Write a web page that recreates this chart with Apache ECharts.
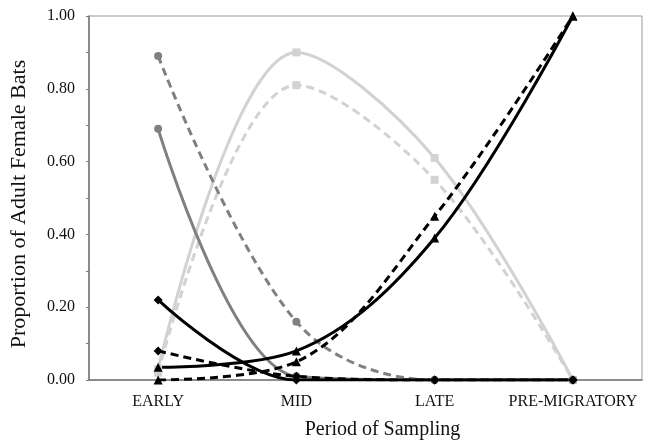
<!DOCTYPE html>
<html>
<head>
<meta charset="utf-8">
<script src="https://cdn.jsdelivr.net/npm/echarts@6/dist/echarts.min.js"></script>
<style>
  html, body { margin: 0; padding: 0; background: #fff; }
  #main { width: 648px; height: 445px; }
</style>
</head>
<body>
<div id="main"></div>
<script>
// periods of sampling
var periods = ['EARLY', 'MID', 'LATE', 'PRE-MIGRATORY'];
var yTicks = [0, 0.2, 0.4, 0.6, 0.8, 1.0];

// light grey, squares
var lightSolid = [0.03, 0.90, 0.61, 0.0];
var lightDashed = [0.02, 0.81, 0.55, 0.0];
// dark grey, circles
var darkSolid = [0.69, 0.01, 0.0, 0.0];
var darkDashed = [0.89, 0.16, 0.0, 0.0];
// black, diamonds
var diamondSolid = [0.22, 0.0, 0.0, 0.0];
var diamondDashed = [0.08, 0.01, 0.0, 0.0];
// black, triangles
var triangleSolid = [0.035, 0.08, 0.39, 1.0];
var triangleDashed = [0.0, 0.05, 0.45, 1.0];

var FONT = '"Liberation Serif", "DejaVu Serif", serif';

function mkLine(data, color, dashed, symbol, size) {
  return {
    type: 'line',
    data: data,
    smooth: 0.35,
    symbol: symbol,
    symbolSize: size,
    showSymbol: true,
    lineStyle: { color: color, width: 3, type: dashed ? [8, 5] : 'solid' },
    itemStyle: { color: color },
    emphasis: { disabled: true }
  };
}

var chart = echarts.init(document.getElementById('main'), null, { renderer: 'canvas' });

var option = {
  animation: false,
  backgroundColor: '#fff',
  grid: {
    left: 88, right: 6, top: 16, bottom: 63,
    show: true, borderColor: '#999', borderWidth: 1
  },
  xAxis: {
    type: 'category',
    data: periods,
    boundaryGap: true,
    name: 'Period of Sampling',
    nameLocation: 'middle',
    nameGap: 40,
    nameTextStyle: { fontFamily: FONT, fontSize: 20, color: '#111', padding: [0, 0, 0, 34] },
    axisLine: { lineStyle: { color: '#777', width: 1.5 } },
    axisTick: { show: false },
    axisLabel: { interval: 0, fontFamily: FONT, fontSize: 16, color: '#111', margin: 14 },
    splitLine: { show: false }
  },
  yAxis: {
    type: 'value',
    min: yTicks[0],
    max: yTicks[yTicks.length - 1],
    interval: 0.2,
    name: 'Proportion of Adult Female Bats',
    nameLocation: 'middle',
    nameGap: 59,
    nameTextStyle: { fontFamily: FONT, fontSize: 22, color: '#111', padding: [0, 12, 0, 0] },
    axisLine: { show: true, lineStyle: { color: '#777', width: 1.5 } },
    axisTick: { show: true, length: 3, lineStyle: { color: '#777' } },
    minorTick: { show: true, splitNumber: 2, length: 3, lineStyle: { color: '#777' } },
    axisLabel: {
      fontFamily: FONT, fontSize: 16, color: '#111', margin: 14,
      formatter: function (v) { return v.toFixed(2); }
    },
    splitLine: { show: false }
  },
  series: [
    mkLine(lightSolid, '#d2d2d2', false, 'rect', 8),
    mkLine(lightDashed, '#d2d2d2', true, 'rect', 8),
    mkLine(darkSolid, '#808080', false, 'circle', 8),
    mkLine(darkDashed, '#808080', true, 'circle', 8),
    mkLine(diamondSolid, '#000', false, 'diamond', 9),
    mkLine(diamondDashed, '#000', true, 'diamond', 9),
    mkLine(triangleSolid, '#000', false, 'triangle', 9),
    mkLine(triangleDashed, '#000', true, 'triangle', 9)
  ]
};

chart.setOption(option);
</script>
</body>
</html>
